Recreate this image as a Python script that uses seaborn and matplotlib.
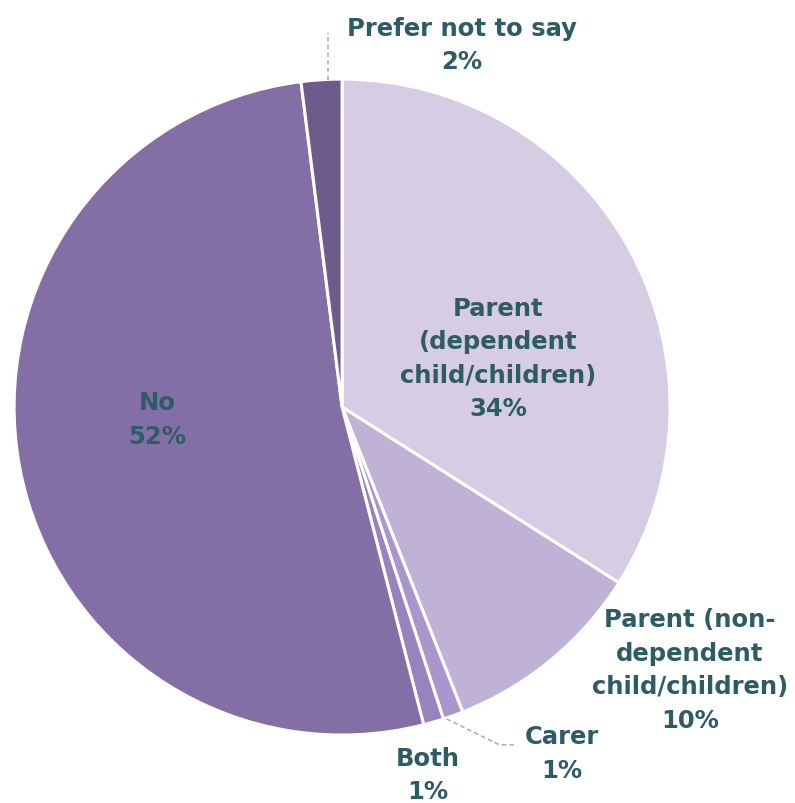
import matplotlib
matplotlib.use("Agg")
import matplotlib.pyplot as plt
import numpy as np
import seaborn as sns

# Survey responses: caring responsibilities
categories = [
    "Parent\n(dependent\nchild/children)",
    "Parent (non-\ndependent\nchild/children)",
    "Carer",
    "Both",
    "No",
    "Prefer not to say",
]
shares = [34, 10, 1, 1, 52, 2]
colors = ["#d6cde4", "#bfb2d6", "#aa96ca", "#9883bd", "#836fa5", "#6d5b8b"]

sns.set_theme(style="white")
plt.rcParams["font.family"] = ["DejaVu Sans"]

TEXT = "#2e5c66"

fig = plt.figure(figsize=(7.95, 8.04), dpi=100)
ax = fig.add_axes([0, 0, 1, 1])

wedges, _ = ax.pie(
    shares,
    colors=colors,
    startangle=90,
    counterclock=False,
    radius=1.0,
    wedgeprops=dict(edgecolor="white", linewidth=2.2),
)

ax.set_xlim(-1.043, 1.381)
ax.set_ylim(-1.207, 1.244)
ax.set_aspect("equal")
ax.axis("off")

labels = [f"{c}\n{v}%" for c, v in zip(categories, shares)]

# label anchor positions (data units, pie radius = 1)
label_pos = {
    0: (0.476, 0.150),
    1: (1.06, -0.800),
    2: (0.67, -1.055),
    3: (0.26, -1.120),
    4: (-0.565, -0.037),
    5: (0.365, 1.106),
}

for i, (x, y) in label_pos.items():
    ax.text(x, y, labels[i], ha="center", va="center", color=TEXT,
            fontsize=17.5, fontweight="bold", linespacing=1.5)

# leader lines for the small outer labels
def wedge_edge(w, r=1.0):
    ang = np.deg2rad((w.theta1 + w.theta2) / 2)
    return r * np.cos(ang), r * np.sin(ang)

cx, cy = wedge_edge(wedges[2], 1.0)
ax.plot([cx - 0.02, 0.48, 0.53], [cy - 0.01, -1.03, -1.03], color="#aaaaaa",
        lw=1.1, ls=(0, (3, 2)), solid_capstyle="butt")

px, py = wedge_edge(wedges[5], 1.0)
ax.plot([px + 0.02, px + 0.02], [py + 0.0, 1.14], color="#aaaaaa", lw=1.1,
        ls=(0, (3, 2)))

fig.savefig("out.png", dpi=100, facecolor="white")
